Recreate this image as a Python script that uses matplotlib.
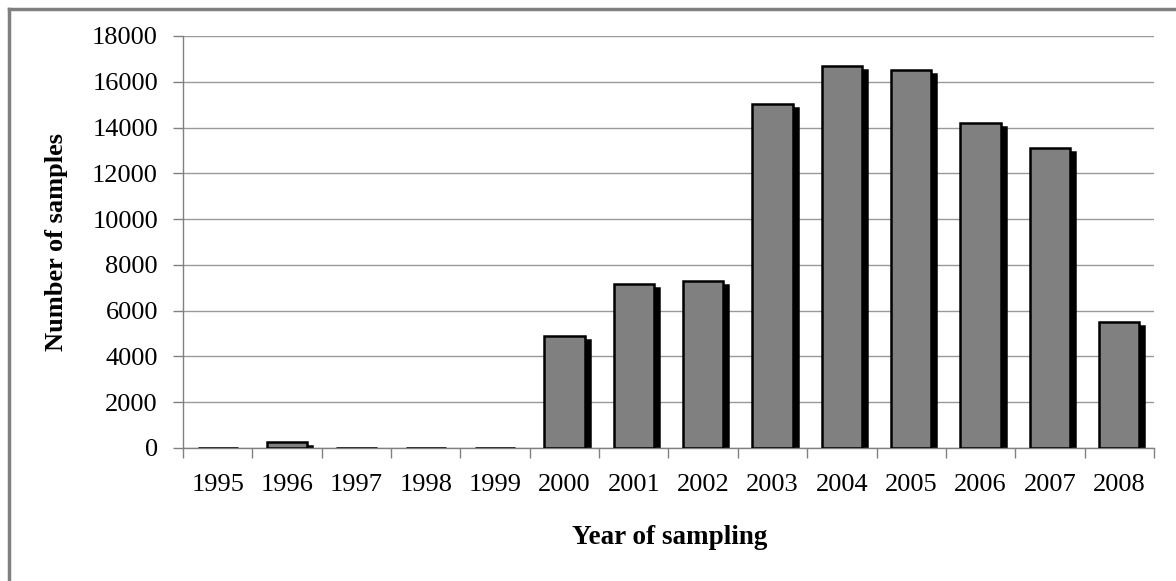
import matplotlib
matplotlib.use("Agg")
import matplotlib.pyplot as plt
import matplotlib.transforms as mtransforms
from matplotlib.lines import Line2D
import numpy as np

years = ["1995", "1996", "1997", "1998", "1999", "2000", "2001",
         "2002", "2003", "2004", "2005", "2006", "2007", "2008"]
samples = [0, 260, 0, 0, 0, 4900, 7150, 7300, 15050, 16700, 16500, 14200, 13100, 5500]
yticks = [0, 2000, 4000, 6000, 8000, 10000, 12000, 14000, 16000, 18000]

plt.rcParams["font.family"] = ["Liberation Serif", "DejaVu Serif"]

W, H = 1176, 581
fig = plt.figure(figsize=(W / 100, H / 100), dpi=100)
ax = fig.add_axes([183 / W, 1 - 448 / H, (1154 - 183) / W, (448 - 36) / H])

x = np.arange(len(years))
width = 0.58

# shadow, offset right/down
shadow_tr = ax.transData + mtransforms.ScaledTranslation(5 / 100, -4 / 100, fig.dpi_scale_trans)
shadows = ax.bar(x, samples, width, color="black", edgecolor="black", linewidth=1.8, zorder=2)
for p in shadows:
    p.set_transform(shadow_tr)
ax.bar(x, samples, width, color="#808080", edgecolor="black", linewidth=1.8, zorder=3)

ax.set_xlim(-0.5, len(years) - 0.5)
ax.set_ylim(0, 18000)
ax.set_yticks(yticks)
ax.set_yticklabels([str(t) for t in yticks], fontsize=19)
ax.set_xticks(x)
ax.set_xticklabels(years, fontsize=19)
ax.set_xticks(np.arange(-0.5, len(years)), minor=True)
ax.tick_params(axis="x", which="major", length=0, pad=19)
ax.tick_params(axis="x", which="minor", length=7, color="#808080", width=1)
ax.tick_params(axis="y", length=7, color="#808080", width=1, pad=11)

ax.yaxis.grid(True, color="#999999", linewidth=1)
ax.set_axisbelow(True)
for s in ["top", "right"]:
    ax.spines[s].set_visible(False)
for s in ["left", "bottom"]:
    ax.spines[s].set_color("#808080")
    ax.spines[s].set_linewidth(1)

ax.set_ylabel("Number of samples", fontsize=19, fontweight="bold", va="center")
ax.set_xlabel("Year of sampling", fontsize=19.5, fontweight="bold", va="center")
ax.yaxis.set_label_coords((57 - 183) / 971, 0.5)
ax.xaxis.set_label_coords(0.5 * (573 + 767 - 2 * 183) / 971, (448 - 538) / 412)

# outer chart border (left and top visible)
fig.add_artist(Line2D([8.5 / W, 8.5 / W], [0, 1 - 8.5 / H], color="#808080", linewidth=2.5))
fig.add_artist(Line2D([8.5 / W, 1], [1 - 8.5 / H, 1 - 8.5 / H], color="#808080", linewidth=2.5))

fig.savefig("out.png", dpi=100)
